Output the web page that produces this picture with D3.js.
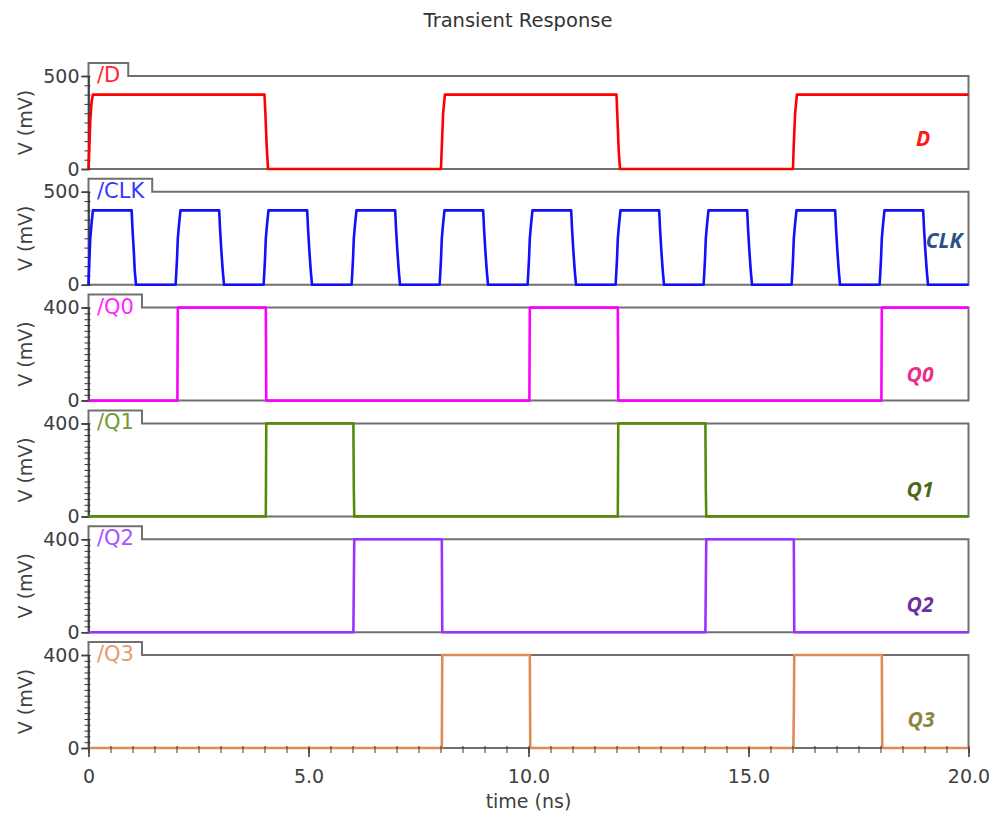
<!DOCTYPE html>
<html>
<head>
<meta charset="utf-8">
<script src="https://cdn.jsdelivr.net/npm/d3@7"></script>
<style>
html,body{margin:0;padding:0;background:#fff;}
svg{display:block;}
</style>
</head>
<body>
<svg id="chart" width="995" height="815"></svg>
<script>
// ---------- data (time in ns, voltage in mV) ----------
const signalNames = ["D", "CLK", "Q0", "Q1", "Q2", "Q3"];
const tabLabels = ["/D", "/CLK", "/Q0", "/Q1", "/Q2", "/Q3"];
const yMaxValues = [500, 500, 400, 400, 400, 400];
const yTickLabelsD = [0, 500];
const yTickLabelsQ = [0, 400];
const xTickValues = [0, 5, 10, 15, 20];
const xTickLabels = ["0", "5.0", "10.0", "15.0", "20.0"];

const dWave = [
  [0,0],[0.02,120],[0.04,260],[0.07,360],[0.1,400],
  [4.0,400],[4.02,300],[4.05,120],[4.08,0],
  [8.01,0],[8.03,120],[8.06,300],[8.1,400],
  [12.0,400],[12.02,280],[12.05,100],[12.08,0],
  [16.01,0],[16.03,140],[16.06,300],[16.1,400],
  [20,400]
];
const clkWave = [
  [0,0],[0.02,130],[0.04,250],[0.07,330],[0.1,400],[0.98,400],[1.0,300],[1.03,180],[1.05,80],[1.08,0],
  [1.98,0],[2.01,130],[2.03,250],[2.06,330],[2.09,400],[2.97,400],[2.99,300],[3.02,180],[3.05,80],[3.08,0],
  [3.98,0],[4.01,130],[4.03,250],[4.06,330],[4.09,400],[4.97,400],[4.99,300],[5.02,180],[5.05,80],[5.08,0],
  [5.98,0],[6.01,130],[6.03,250],[6.06,330],[6.09,400],[6.97,400],[6.99,300],[7.02,180],[7.05,80],[7.08,0],
  [7.98,0],[8.01,130],[8.03,250],[8.06,330],[8.09,400],[8.97,400],[8.99,300],[9.02,180],[9.05,80],[9.08,0],
  [9.98,0],[10.01,130],[10.03,250],[10.06,330],[10.09,400],[10.97,400],[10.99,300],[11.02,180],[11.05,80],[11.08,0],
  [11.98,0],[12.01,130],[12.03,250],[12.06,330],[12.09,400],[12.97,400],[12.99,300],[13.02,180],[13.05,80],[13.08,0],
  [13.98,0],[14.01,130],[14.03,250],[14.06,330],[14.09,400],[14.97,400],[14.99,300],[15.02,180],[15.05,80],[15.08,0],
  [15.98,0],[16.01,130],[16.03,250],[16.06,330],[16.09,400],[16.97,400],[16.99,300],[17.02,180],[17.05,80],[17.08,0],
  [17.98,0],[18.01,130],[18.03,250],[18.06,330],[18.09,400],[18.97,400],[18.99,300],[19.02,180],[19.05,80],[19.08,0],
  [20,0]
];
const q0Wave = [[0,0],[2.02,0],[2.03,400],[4.03,400],[4.04,0],[10.02,0],[10.03,400],[12.03,400],[12.04,0],[18.02,0],[18.03,400],[20,400]];
const q1Wave = [[0,0],[4.03,0],[4.04,400],[6.02,400],[6.03,120],[6.04,0],[12.03,0],[12.04,400],[14.02,400],[14.03,120],[14.04,0],[20,0]];
const q2Wave = [[0,0],[6.02,0],[6.04,400],[8.03,400],[8.04,0],[14.02,0],[14.04,400],[16.03,400],[16.04,0],[20,0]];
const q3Wave = [[0,0],[8.03,0],[8.04,400],[10.03,400],[10.04,0],[16.02,0],[16.03,150],[16.04,400],[18.03,400],[18.04,0],[20,0]];
const waves = [dWave, clkWave, q0Wave, q1Wave, q2Wave, q3Wave];

// ---------- styling / layout ----------
const lineColors = ["#ff0000", "#1010ff", "#ff00ff", "#558b0a", "#9933ff", "#e08a55"];
const nameColors = ["#ff1a1a", "#2b5283", "#e8308c", "#4a6a18", "#7030a0", "#8c8542"];
const namePos = [[923, 70], [944, 56], [920, 74], [920, 74], [920, 73], [921, 72]];
const panelTop0 = 76, panelStep = 115.8, panelH = 93;
const xLeft = 88.5, xRight = 968.5;
const borderColor = "#707070";
const textColor = "#404040";
const font = "'DejaVu Sans', sans-serif";

const svg = d3.select("#chart");
svg.append("rect").attr("width", 995).attr("height", 815).attr("fill", "#fff");

svg.append("text").attr("x", 518).attr("y", 27).attr("text-anchor", "middle")
  .attr("font-family", font).attr("font-size", 19.5).attr("fill", "#333")
  .text("Transient Response");

const x = d3.scaleLinear().domain([0, 20]).range([xLeft, xRight]);

signalNames.forEach((name, i) => {
  const top = panelTop0 + i * panelStep;
  const bottom = top + panelH;
  const yMax = yMaxValues[i];
  const y = d3.scaleLinear().domain([0, yMax]).range([bottom, top]);
  const g = svg.append("g");

  // tab label
  const lbl = g.append("text").attr("x", 97).attr("y", top + 6)
    .attr("font-family", font).attr("font-size", 21).attr("fill", lineColors[i])
    .attr("opacity", 0.85)
    .text(tabLabels[i]);
  const tw = lbl.node().getComputedTextLength();
  const tabRight = 97 + tw + 8;
  const tabTop = top - 13;

  // border with tab
  g.insert("path", "text")
    .attr("d", `M${xLeft},${bottom} L${xLeft},${tabTop} L${tabRight},${tabTop} L${tabRight},${top} L${xRight},${top} L${xRight},${bottom} Z`)
    .attr("fill", "none").attr("stroke", borderColor).attr("stroke-width", 2);

  // y axis minor ticks
  const minorStep = yMax === 500 ? 50 : 25;
  const minorAxis = d3.axisLeft(y).tickValues(d3.range(0, yMax + 0.1, minorStep)).tickSize(4).tickFormat("");
  const ma = g.append("g").attr("transform", `translate(${xLeft},0)`).call(minorAxis);
  ma.select(".domain").remove();
  ma.selectAll("line").attr("stroke", "#333").attr("x2", -4).attr("x1", 2);

  // y axis major ticks
  const majorVals = yMax === 500 ? yTickLabelsD : yTickLabelsQ;
  const majorAxis = d3.axisLeft(y).tickValues(majorVals).tickSize(7).tickPadding(2).tickFormat(d3.format("d"));
  const MA = g.append("g").attr("transform", `translate(${xLeft},0)`).call(majorAxis);
  MA.select(".domain").attr("stroke", "#333").attr("stroke-width", 1.5);
  MA.selectAll("line").attr("stroke", "#444").attr("stroke-width", 1.5);
  MA.selectAll("text").attr("font-family", font).attr("font-size", 19).attr("fill", textColor);

  // y title
  g.append("text").attr("transform", `translate(32,${(top + bottom) / 2}) rotate(-90)`)
    .attr("text-anchor", "middle").attr("font-family", font).attr("font-size", 19).attr("fill", textColor)
    .text("V (mV)");

  // waveform
  const line = d3.line().x(d => x(d[0])).y(d => y(d[1]));
  g.append("path").datum(waves[i]).attr("d", line)
    .attr("fill", "none").attr("stroke", lineColors[i]).attr("stroke-width", 2.6)
    .attr("stroke-linejoin", "round");

  // right-side name
  g.append("text").attr("x", namePos[i][0]).attr("y", top + namePos[i][1])
    .attr("text-anchor", "middle").attr("font-family", "'Open Sans', sans-serif")
    .attr("font-weight", "bold").attr("font-style", "italic").attr("font-size", 21)
    .attr("fill", nameColors[i]).text(name);

  // x axis on the last panel
  if (i === signalNames.length - 1) {
    const minorX = d3.axisBottom(x).tickValues(d3.range(0, 20.01, 0.5)).tickSize(5).tickFormat("");
    const mx = g.append("g").attr("transform", `translate(0,${bottom})`).call(minorX);
    mx.select(".domain").remove();
    mx.selectAll("line").attr("stroke", "#333").attr("y1", -2);
    const majorX = d3.axisBottom(x).tickValues(xTickValues).tickSize(9).tickPadding(13)
      .tickFormat((d, k) => xTickLabels[k]);
    const MX = g.append("g").attr("transform", `translate(0,${bottom})`).call(majorX);
    MX.select(".domain").remove();
    MX.selectAll("line").attr("stroke", "#333").attr("stroke-width", 1.5);
    MX.selectAll("text").attr("font-family", font).attr("font-size", 19).attr("fill", textColor);
    g.append("text").attr("x", (xLeft + xRight) / 2).attr("y", 808).attr("text-anchor", "middle")
      .attr("font-family", font).attr("font-size", 19).attr("fill", textColor).text("time (ns)");
  }
});
</script>
</body>
</html>
